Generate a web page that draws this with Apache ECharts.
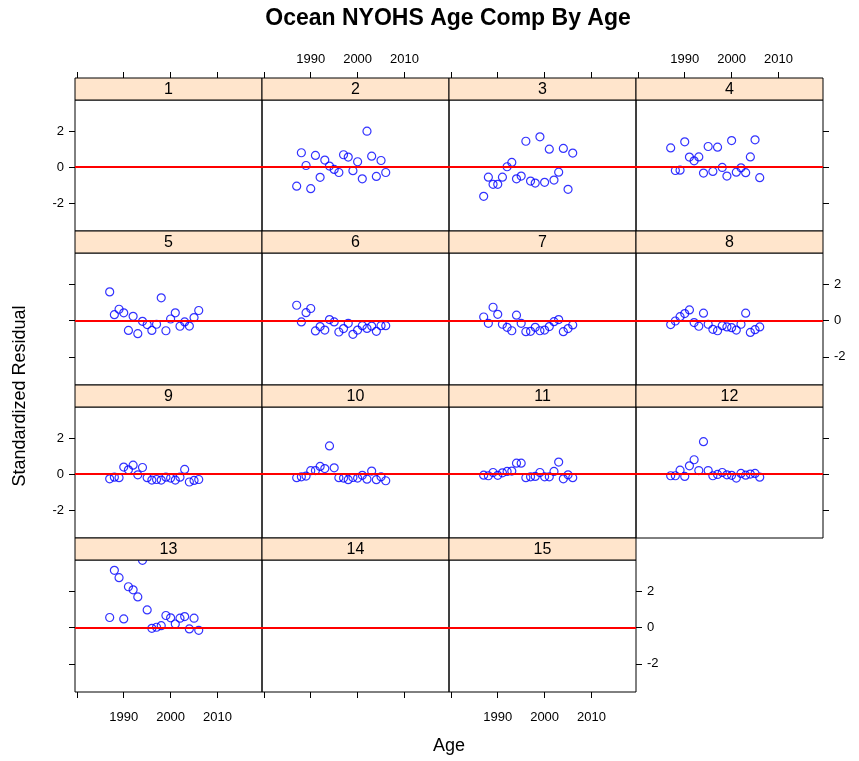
<!DOCTYPE html>
<html><head><meta charset="utf-8">
<script src="https://cdn.jsdelivr.net/npm/echarts@6/dist/echarts.min.js"></script>
<style>html,body{margin:0;padding:0;background:#fff}#c{width:859px;height:761px}</style>
</head><body><div id="c"></div>
<script>
const chartTitle = 'Ocean NYOHS Age Comp By Age';
const xTitle = 'Age';
const yTitle = 'Standardized Residual';
const years = [1987,1988,1989,1990,1991,1992,1993,1994,1995,1996,1997,1998,1999,2000,2001,2002,2003,2004,2005,2006];
const panelNames = ['1','2','3','4','5','6','7','8','9','10','11','12','13','14','15'];
const age1 = [];
const age2 = [-1.06,0.80,0.09,-1.20,0.65,-0.57,0.39,0.06,-0.13,-0.30,0.69,0.56,-0.20,0.30,-0.65,2.00,0.61,-0.52,0.37,-0.30];
const age3 = [-1.63,-0.56,-0.96,-0.96,-0.56,0.02,0.26,-0.65,-0.50,1.44,-0.78,-0.89,1.69,-0.85,1.00,-0.72,-0.28,1.04,-1.24,0.78];
const age4 = [1.07,-0.19,-0.17,1.41,0.56,0.35,0.57,-0.33,1.15,-0.24,1.11,-0.02,-0.50,1.48,-0.28,-0.04,-0.31,0.57,1.52,-0.59];
const age5 = [1.59,0.33,0.63,0.43,-0.54,0.24,-0.72,-0.04,-0.22,-0.54,-0.20,1.26,-0.56,0.09,0.43,-0.31,-0.07,-0.30,0.17,0.56];
const age6 = [0.85,-0.07,0.44,0.67,-0.57,-0.33,-0.52,0.06,-0.07,-0.63,-0.44,-0.15,-0.76,-0.52,-0.28,-0.43,-0.30,-0.59,-0.28,-0.28];
const age7 = [0.20,-0.15,0.74,0.35,-0.20,-0.37,-0.56,0.30,-0.15,-0.61,-0.59,-0.37,-0.56,-0.52,-0.33,-0.06,0.06,-0.61,-0.44,-0.24];
const age8 = [-0.22,-0.02,0.22,0.39,0.59,-0.11,-0.31,0.41,-0.20,-0.48,-0.56,-0.28,-0.35,-0.39,-0.52,-0.20,0.41,-0.65,-0.50,-0.35];
const age9 = [-0.26,-0.17,-0.20,0.39,0.24,0.50,-0.04,0.37,-0.20,-0.33,-0.30,-0.33,-0.17,-0.22,-0.33,-0.17,0.26,-0.44,-0.35,-0.30];
const age10 = [-0.20,-0.15,-0.11,0.19,0.20,0.43,0.31,1.57,0.35,-0.20,-0.22,-0.31,-0.19,-0.22,-0.07,-0.28,0.17,-0.31,-0.15,-0.37];
const age11 = [-0.06,-0.09,0.09,-0.07,0.07,0.15,0.17,0.61,0.61,-0.20,-0.15,-0.13,0.09,-0.15,-0.15,0.15,0.67,-0.26,-0.04,-0.20];
const age12 = [-0.09,-0.09,0.22,-0.13,0.46,0.80,0.20,1.81,0.20,-0.09,-0.02,0.09,-0.04,-0.07,-0.22,0.04,-0.06,0.00,0.04,-0.17];
const age13 = [0.56,3.17,2.76,0.48,2.26,2.09,1.70,3.72,0.98,-0.04,0.02,0.11,0.67,0.54,0.20,0.52,0.61,-0.07,0.52,-0.15];
const age14 = [];
const age15 = [];
const panelValues = [age1,age2,age3,age4,age5,age6,age7,age8,age9,age10,age11,age12,age13,age14,age15];
const xTicks = [1980,1990,2000,2010];
const xTickLabels = [1990,2000,2010];
const yTicks = [-2,0,2];
const yTickLabels = [-2,0,2];
const refValue = 0;

const X_MIN = 1979.6, X_MAX = 2019.5, Y_MIN = -3.56, Y_MAX = 3.74;
const colX = [75, 262, 449, 636];
const colW = 187;
const stripTop = [78, 231, 385, 538];
const rowBottom = [231, 385, 538, 692];
const stripH = 22;
const FONT = '"Liberation Sans", Arial, Helvetica, sans-serif';

const grids = [], xAxes = [], yAxes = [], series = [], graphics = [];
const n = panelNames.length;
for (let i = 0; i < n; i++) {
  const r = Math.floor(i / 4), c = i % 4;
  const top = stripTop[r] + stripH;
  grids.push({left: colX[c], top: top, width: colW, height: rowBottom[r] - top,
    show: true, borderColor: '#000', borderWidth: 1, backgroundColor: 'transparent', containLabel: false});
  const isTopRow = r === 0;
  const isBottom = i >= n - 3;
  const isLeft = c === 0;
  const isRight = c === 3 || i === n - 1;
  const xBase = (pos, showTicks, showLabels) => ({
    type: 'value', gridIndex: i, position: pos, min: X_MIN, max: X_MAX,
    offset: pos === 'top' ? stripH : 0,
    axisLine: {show: false, onZero: false}, splitLine: {show: false},
    axisTick: {show: showTicks, inside: false, length: 6, lineStyle: {color: '#000', width: 1}, customValues: xTicks},
    axisLabel: {show: showLabels, margin: pos === 'top' ? 12 : 19, color: '#000', fontSize: 13, fontFamily: FONT,
      customValues: xTickLabels, formatter: v => String(v)}
  });
  const yBase = (pos, showTicks, showLabels) => ({
    type: 'value', gridIndex: i, position: pos, min: Y_MIN, max: Y_MAX,
    axisLine: {show: false, onZero: false}, splitLine: {show: false},
    axisTick: {show: showTicks, inside: false, length: 6, lineStyle: {color: '#000', width: 1}, customValues: yTicks},
    axisLabel: {show: showLabels, margin: 11, color: '#000', fontSize: 13, fontFamily: FONT,
      customValues: yTickLabels, formatter: v => String(v)}
  });
  const xi = xAxes.length;
  xAxes.push(xBase('bottom', isBottom, isBottom && (c === 0 || c === 2)));
  xAxes.push(xBase('top', isTopRow, isTopRow && (c === 1 || c === 3)));
  const yi = yAxes.length;
  yAxes.push(yBase('left', isLeft, isLeft && (r === 0 || r === 2)));
  yAxes.push(yBase('right', isRight, isRight && (r === 1 || r === 3)));
  series.push({
    type: 'scatter', xAxisIndex: xi, yAxisIndex: yi,
    data: panelValues[i].map((v, k) => [years[k], v]),
    symbol: 'circle', symbolSize: 8,
    itemStyle: {color: 'rgba(0,0,0,0)', borderColor: '#0000ff', borderWidth: 1.2},
    silent: true,
    markLine: {silent: true, symbol: ['none', 'none'], label: {show: false},
      lineStyle: {color: '#ff0000', width: 2, type: 'solid'}, data: [{yAxis: refValue}]}
  });
  graphics.push({type: 'rect', z: 100, shape: {x: colX[c], y: stripTop[r], width: colW, height: stripH},
    style: {fill: '#FFE5CC', stroke: '#000', lineWidth: 1}});
  graphics.push({type: 'text', z: 101, x: colX[c] + colW / 2, y: stripTop[r] + stripH / 2 + 1,
    style: {text: panelNames[i], font: '16px ' + FONT, fill: '#000', textAlign: 'center', textVerticalAlign: 'middle'}});
}
graphics.push({type: 'text', z: 101, x: 448, y: 19,
  style: {text: chartTitle, font: 'bold 23px ' + FONT, fill: '#000', textAlign: 'center', textVerticalAlign: 'middle'}});
graphics.push({type: 'text', z: 101, x: 449, y: 746,
  style: {text: xTitle, font: '18px ' + FONT, fill: '#000', textAlign: 'center', textVerticalAlign: 'middle'}});
graphics.push({type: 'text', z: 101, x: 20, y: 396, rotation: Math.PI / 2,
  style: {text: yTitle, font: '18px ' + FONT, fill: '#000', textAlign: 'center', textVerticalAlign: 'middle'}});

const chart = echarts.init(document.getElementById('c'), null, {renderer: 'canvas'});
chart.setOption({
  animation: false,
  backgroundColor: '#fff',
  grid: grids, xAxis: xAxes, yAxis: yAxes, series: series, graphic: graphics
});
</script></body></html>
